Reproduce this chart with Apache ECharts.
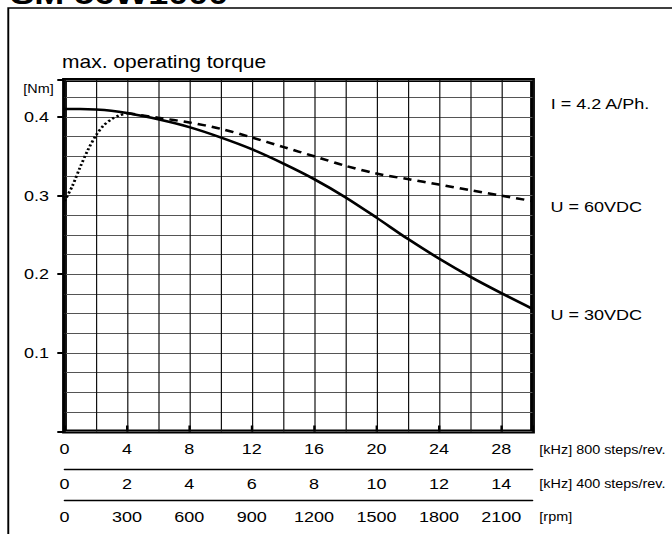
<!DOCTYPE html>
<html>
<head>
<meta charset="utf-8">
<script src="https://cdn.jsdelivr.net/npm/echarts@6/dist/echarts.min.js"></script>
<style>
  html, body { margin: 0; padding: 0; background: #fff; overflow: hidden; }
  /* the sheet is laid out 560 px wide and stretched horizontally to 672 px */
  #chart { width: 560px; height: 534px; transform: scaleX(1.2); transform-origin: 0 0; }
</style>
</head>
<body>
<div id="chart"></div>
<script>
// Step frequency at 800 steps/rev [kHz] and torque [Nm]
const freq30V = [0, 1, 2, 3, 4, 6, 8, 10, 12, 14, 16, 18, 20, 22, 24, 26, 28, 30];
const torque30V = [0.410, 0.410, 0.4095, 0.408, 0.405, 0.397, 0.387, 0.374, 0.359, 0.341, 0.321, 0.298, 0.272, 0.245, 0.220, 0.197, 0.176, 0.156];

const freq60V = [4, 6, 8, 10, 12, 14, 16, 18, 20, 22, 24, 26, 28, 30];
const torque60V = [0.405, 0.399, 0.393, 0.385, 0.374, 0.362, 0.350, 0.338, 0.328, 0.321, 0.314, 0.307, 0.300, 0.293];

const freqStart = [0, 0.5, 1, 1.5, 2, 2.5, 3, 3.5, 4];
const torqueStart = [0.293, 0.312, 0.336, 0.358, 0.376, 0.389, 0.397, 0.402, 0.405];

// Tick labels of the three frequency scales and the torque scale
const labels800 = [0, 4, 8, 12, 16, 20, 24, 28];
const labels400 = [0, 2, 4, 6, 8, 10, 12, 14];
const labelsRpm = [0, 300, 600, 900, 1200, 1500, 1800, 2100];
const labelsTorque = ['0.1', '0.2', '0.3', '0.4'];

const FONT = 'Liberation Sans, Arial, Helvetica, sans-serif';
const zip = (xs, ys) => xs.map((x, i) => [x, ys[i]]);
const pick = list => v => {
  const r = Math.round(v * 1000) / 1000;
  return list.includes(r) ? String(r) : '';
};

const baseAxis = {
  type: 'value',
  gridIndex: 0,
  position: 'bottom',
  axisLine: { show: false },
  axisTick: { show: false },
  splitLine: { show: false },
  axisLabel: { show: false }
};
const labelStyle = { color: '#000', fontSize: 15, fontFamily: FONT };
// unit names sit on the label row: an empty first line pushes the text below the axis line
const unitStyle = (shift) => ({
  color: '#000', fontSize: 12, fontFamily: FONT, lineHeight: shift * 2
});

const chart = echarts.init(document.getElementById('chart'), null, { renderer: 'svg' });
chart.setOption({
  animation: false,
  backgroundColor: '#fff',
  title: {
    text: 'max. operating torque',
    left: 51.7, top: 52, padding: 0,
    textStyle: { color: '#000', fontSize: 17.5, fontWeight: 'normal', fontFamily: FONT, lineHeight: 20 }
  },
  grid: {
    left: 53.75, top: 80, width: 390, height: 351.5,
    show: true, borderWidth: 4, borderColor: '#000', backgroundColor: 'transparent'
  },
  xAxis: [
    Object.assign({}, baseAxis, {
      min: 0, max: 30, interval: 2,
      splitLine: { show: true, lineStyle: { color: '#111', width: 1 } },
      axisLabel: Object.assign({ show: true, margin: 10.5, formatter: pick(labels800) }, labelStyle),
      name: '\n[kHz] 800 steps/rev.', nameLocation: 'end', nameGap: 5.7,
      nameTextStyle: unitStyle(18)
    }),
    Object.assign({}, baseAxis, {
      min: 0, max: 30, interval: 4,
      axisTick: { show: true, inside: true, length: 6, lineStyle: { color: '#000', width: 2 } }
    }),
    Object.assign({}, baseAxis, {
      min: 0, max: 15, interval: 2, offset: 37.5,
      axisLine: { show: true, lineStyle: { color: '#000', width: 1.4 } },
      axisLabel: Object.assign({ show: true, margin: 8, formatter: pick(labels400) }, labelStyle),
      name: '\n[kHz] 400 steps/rev.', nameLocation: 'end', nameGap: 5.7,
      nameTextStyle: unitStyle(15.3)
    }),
    Object.assign({}, baseAxis, {
      min: 0, max: 2250, interval: 300, offset: 68.5,
      axisLine: { show: true, lineStyle: { color: '#000', width: 1.4 } },
      axisLabel: Object.assign({ show: true, margin: 9.2, formatter: pick(labelsRpm) }, labelStyle),
      name: '\n[rpm]', nameLocation: 'end', nameGap: 5.7,
      nameTextStyle: unitStyle(16.7)
    })
  ],
  yAxis: [
    {
      type: 'value', position: 'left', min: 0, max: 0.447, interval: 0.025,
      axisLine: { show: false }, axisTick: { show: false },
      splitLine: { show: true, lineStyle: { color: '#555', width: 1 } },
      axisLabel: Object.assign({
        margin: 13,
        formatter: v => {
          const s = (Math.round(v * 10) / 10).toFixed(1);
          return Math.abs(v * 10 - Math.round(v * 10)) < 1e-6 && labelsTorque.includes(s) ? s : '';
        }
      }, labelStyle),
      name: '[Nm]', nameLocation: 'end', nameGap: -9,
      nameTextStyle: { color: '#000', fontSize: 12, fontFamily: FONT, align: 'right', verticalAlign: 'middle', padding: [0, 9, 0, 0] }
    },
    {
      type: 'value', position: 'left', min: 0, max: 0.447, interval: 0.1,
      axisLine: { show: false }, splitLine: { show: false }, axisLabel: { show: false },
      axisTick: { show: true, inside: false, length: 6, lineStyle: { color: '#000', width: 2 } }
    }
  ],
  series: [
    {
      name: 'U = 30VDC', type: 'line', data: zip(freq30V, torque30V),
      showSymbol: false, smooth: 0.3,
      lineStyle: { color: '#000', width: 2.5 },
      endLabel: { show: true, formatter: '{a}', color: '#000', fontSize: 15, fontFamily: FONT, distance: 0, offset: [15, 6] }
    },
    {
      name: 'U = 60VDC', type: 'line', data: zip(freq60V, torque60V),
      showSymbol: false, smooth: 0.3,
      lineStyle: { color: '#000', width: 2.5, type: [7, 5] },
      endLabel: { show: true, formatter: '{a}', color: '#000', fontSize: 15, fontFamily: FONT, distance: 0, offset: [15, 6] }
    },
    {
      name: 'start', type: 'line', data: zip(freqStart, torqueStart),
      showSymbol: false, smooth: 0.3,
      lineStyle: { color: '#000', width: 2.4, type: [2, 2.2] }
    }
  ],
  graphic: [
    {
      type: 'rect', silent: true, z: -10,
      shape: { x: 6.9, y: 8, width: 700, height: 600 },
      style: { fill: 'none', stroke: '#000', lineWidth: 1.6 }
    },
    {
      type: 'text', silent: true,
      style: { text: 'SM 56W1000', x: 8.5, y: -6.5, verticalAlign: 'middle', fill: '#000', font: 'bold 30px ' + FONT }
    },
    {
      type: 'text', silent: true,
      style: { text: 'I = 4.2 A/Ph.', x: 459, y: 104, verticalAlign: 'middle', fill: '#000', font: '15px ' + FONT }
    }
  ]
});
</script>
</body>
</html>
